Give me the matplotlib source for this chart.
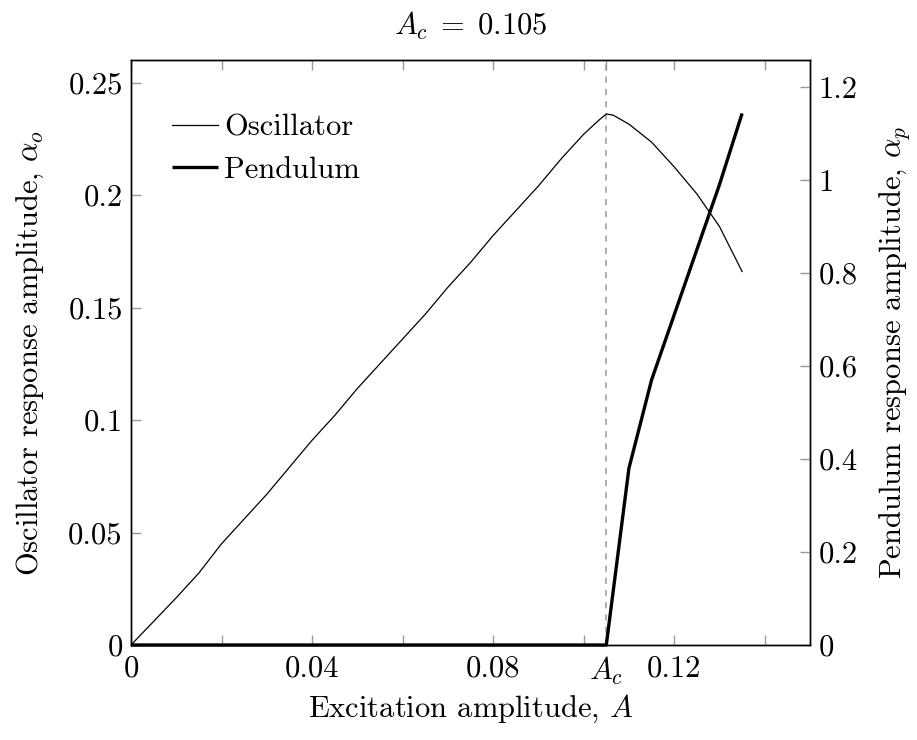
import numpy as np
import matplotlib.pyplot as plt

# excitation amplitude A
A_osc = [0.0, 0.005, 0.01, 0.015, 0.02, 0.025, 0.03, 0.035, 0.04, 0.045, 0.05,
         0.055, 0.06, 0.065, 0.07, 0.075, 0.08, 0.085, 0.09, 0.095, 0.10, 0.1035,
         0.105, 0.1065, 0.11, 0.115, 0.12, 0.125, 0.13, 0.135]
alpha_o = [0.0, 0.0105, 0.021, 0.032, 0.045, 0.056, 0.067, 0.079, 0.091, 0.102, 0.114,
           0.125, 0.136, 0.147, 0.159, 0.170, 0.182, 0.193, 0.204, 0.216, 0.227, 0.2335,
           0.236, 0.2355, 0.2315, 0.2235, 0.2125, 0.2005, 0.186, 0.166]

A_pen = [0.0, 0.105, 0.110, 0.115, 0.120, 0.125, 0.130, 0.135]
alpha_p = [0.0, 0.0, 0.38, 0.57, 0.71, 0.85, 0.99, 1.143]

A_c = 0.105

x_major = [0, 0.04, 0.08, A_c, 0.12]
x_major_labels = ['0', '0.04', '0.08', '$A_c$', '0.12']
x_minor = [0.02, 0.06, 0.10, 0.14]
yl_ticks = [0, 0.05, 0.1, 0.15, 0.2, 0.25]
yl_labels = ['0', '0.05', '0.1', '0.15', '0.2', '0.25']
yr_ticks = [0, 0.2, 0.4, 0.6, 0.8, 1.0, 1.2]
yr_labels = ['0', '0.2', '0.4', '0.6', '0.8', '1', '1.2']

plt.rcParams['font.family'] = 'serif'
plt.rcParams['font.serif'] = ['cmr10']
plt.rcParams['mathtext.fontset'] = 'cm'
plt.rcParams['axes.unicode_minus'] = False
fs = 22

fig = plt.figure(figsize=(9.17, 7.4), dpi=100)
ax = fig.add_axes([131/917, 1 - 645/740, (810-131)/917, (645-60)/740])
ax2 = ax.twinx()

ax.axvline(A_c, color='#999999', ls=(0, (4, 4)), lw=1.1, zorder=1)
l1, = ax.plot(A_osc, alpha_o, color='black', lw=0.9, label='Oscillator')
l2, = ax2.plot(A_pen, alpha_p, color='black', lw=2.4, label='Pendulum',
               solid_capstyle='butt', clip_on=False)

ax.set_xlim(0, 0.15)
ax.set_ylim(0, 0.26)
ax2.set_ylim(0, 1.258)

ax.set_xticks(x_major)
ax.set_xticklabels(x_major_labels, fontsize=fs)
ax.set_xticks(x_minor, minor=True)
ax.set_yticks(yl_ticks)
ax.set_yticklabels(yl_labels, fontsize=fs)
ax2.set_yticks(yr_ticks)
ax2.set_yticklabels(yr_labels, fontsize=fs)

for a in (ax, ax2):
    a.tick_params(which='both', direction='in', length=7.5, width=1.0,
                  color='#999999', pad=6)
    for s in a.spines.values():
        s.set_linewidth(1.0)
ax.tick_params(axis='x', which='both', top=True, pad=7)

ax.set_xlabel('Excitation amplitude, $A$', fontsize=fs, labelpad=4)
ax.set_ylabel(r'Oscillator response amplitude, $\alpha_o$', fontsize=fs, labelpad=16)
ax2.set_ylabel(r'Pendulum response amplitude, $\alpha_p$', fontsize=fs, labelpad=14)
ax.set_title(r'$A_c\;=\;0.105$', fontsize=fs, pad=18)

ax.legend(handles=[l1, l2], loc='upper left', frameon=False, fontsize=fs,
          handlelength=1.5, handletextpad=0.2, labelspacing=0.5,
          bbox_to_anchor=(0.02, 0.955))

fig.savefig('out.png', dpi=100)
